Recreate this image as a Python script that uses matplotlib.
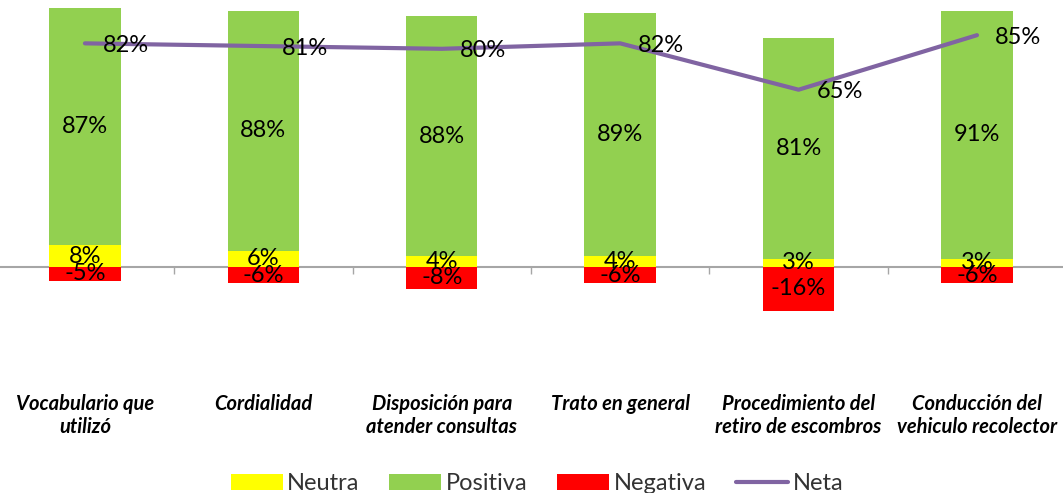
import matplotlib.pyplot as plt
import matplotlib.transforms as mtransforms
import numpy as np

categories = [
    "Vocabulario que\nutilizó",
    "Cordialidad",
    "Disposición para\natender consultas",
    "Trato en general",
    "Procedimiento del\nretiro de escombros",
    "Conducción del\nvehiculo recolector",
]
neutra = [8, 6, 4, 4, 3, 3]
positiva = [87, 88, 88, 89, 81, 91]
negativa = [-5, -6, -8, -6, -16, -6]
neta = [82, 81, 80, 82, 65, 85]

plt.rcParams["font.family"] = ["Lato", "DejaVu Sans"]

c_neu = "#FFFF00"
c_pos = "#92D050"
c_neg = "#FF0000"
c_net = "#8064A2"


def main():
    fig = plt.figure(figsize=(10.63, 4.93), dpi=100)
    # axes placed so zero line sits at ~267 px from top
    ax = fig.add_axes([-0.004, 0.2097, 1.007, 0.7903])

    x = np.arange(len(categories))
    w = 0.4
    b_neu = ax.bar(x, neutra, w, color=c_neu, zorder=3, label="Neutra")
    b_pos = ax.bar(x, positiva, w, bottom=neutra, color=c_pos, zorder=3, label="Positiva")
    b_neg = ax.bar(x, negativa, w, color=c_neg, zorder=3, label="Negativa")
    l_net, = ax.plot(x, neta, color=c_net, lw=3, solid_capstyle="round", zorder=4, label="Neta")

    fs = 17
    for i in range(len(x)):
        ax.text(x[i], neutra[i] + positiva[i] / 2, f"{positiva[i]}%", ha="center", va="center",
                fontsize=fs, zorder=5)
        ax.text(x[i], neutra[i] / 2, f"{neutra[i]}%", ha="center", va="center", fontsize=fs, zorder=5)
        ax.text(x[i], negativa[i] / 2, f"{negativa[i]}%", ha="center", va="center", fontsize=fs, zorder=5)
        ax.annotate(f"{neta[i]}%", (x[i], neta[i]), xytext=(13, -1.5), textcoords="offset points",
                    ha="left", va="center", fontsize=fs, zorder=5)

    ax.set_xlim(-0.5, len(x) - 0.5)
    ax.set_ylim(-45, 97.9)

    for s in ["top", "right", "left"]:
        ax.spines[s].set_visible(False)
    ax.spines["bottom"].set_position(("data", 0))
    ax.spines["bottom"].set_color("#A6A6A6")
    ax.spines["bottom"].set_linewidth(1.5)
    ax.spines["bottom"].set_zorder(2)
    ax.set_yticks([])
    ax.set_xticks(x[:-1] + 0.5)
    ax.set_xticklabels([])
    ax.tick_params(axis="x", direction="out", length=5, width=1, color="#A6A6A6")

    trans = mtransforms.blended_transform_factory(ax.transData, ax.transAxes)
    for i, cat in enumerate(categories):
        ax.text(x[i], -0.012, cat, transform=trans, ha="center", va="top", fontsize=14.5,
                fontweight="bold", fontstyle="italic", linespacing=1.2)

    fig.legend([b_neu, b_pos, b_neg, l_net], ["Neutra", "Positiva", "Negativa", "Neta"],
               loc="lower center", bbox_to_anchor=(0.505, -0.046), ncol=4, frameon=False,
               fontsize=17, handlelength=2.2, handleheight=0.65, handletextpad=0.2,
               columnspacing=1.25, labelcolor="#333333")

    fig.savefig("out.png", dpi=100)


if __name__ == "__main__":
    main()
